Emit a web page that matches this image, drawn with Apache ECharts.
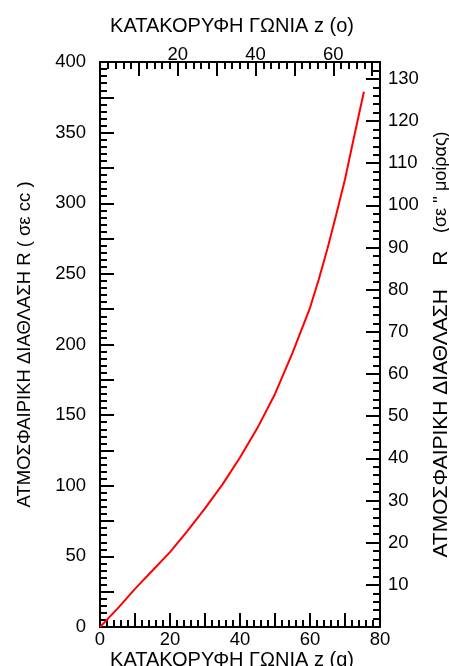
<!DOCTYPE html>
<html>
<head>
<meta charset="utf-8">
<script src="https://cdn.jsdelivr.net/npm/echarts@6/dist/echarts.min.js"></script>
<style>
  html, body { margin: 0; padding: 0; background: #fff; overflow: hidden; }
  #chart { width: 449px; height: 666px; }
</style>
</head>
<body>
<div id="chart"></div>
<script>
// Zenith angle in grads and atmospheric refraction in cc
const zenithGrad = [0, 5, 10, 15, 20, 25, 30, 35, 40, 45, 50, 55, 60, 62.5, 65, 67.5, 70, 72.5, 75.4];
const refractionCc = [0, 13, 27, 40, 53, 68, 84, 101, 120, 141, 165, 194, 226, 246, 268, 292, 317, 346, 379];

// Tick labels shown on each axis
const bottomLabels = [0, 20, 40, 60, 80];
const topLabels = [20, 40, 60];
const leftLabels = [0, 50, 100, 150, 200, 250, 300, 350, 400];
const rightLabels = [10, 20, 30, 40, 50, 60, 70, 80, 90, 100, 110, 120, 130];

const FONT = 'Liberation Sans, Arial, Helvetica, sans-serif';
const INK = '#000';

function pick(list) {
  return function (v) { return list.indexOf(Math.round(v * 1000) / 1000) >= 0 ? String(v) : ''; };
}

function frameAxis(extra, labelMargin, labels, nameStyle) {
  return Object.assign({
    type: 'value',
    axisLine: { show: true, onZero: false, lineStyle: { color: INK, width: 2 } },
    axisTick: { show: true, inside: true, length: 14, lineStyle: { color: INK, width: 2 } },
    minorTick: { show: true, splitNumber: 5, length: 7, lineStyle: { color: INK, width: 2 } },
    splitLine: { show: false },
    minorSplitLine: { show: false },
    axisLabel: { color: INK, fontFamily: FONT, fontSize: 18.5, margin: labelMargin, formatter: pick(labels) },
    nameTextStyle: Object.assign({ color: INK, fontFamily: FONT }, nameStyle),
    nameLocation: 'middle',
    nameMoveOverlap: false
  }, extra);
}

const chart = echarts.init(document.getElementById('chart'), null, { renderer: 'canvas' });

chart.setOption({
  backgroundColor: '#fff',
  animation: false,
  grid: {
    left: 100, right: 69, top: 62, bottom: 39,
    containLabel: false,
    outerBoundsMode: 'none'
  },
  xAxis: [
    frameAxis({
      position: 'bottom', min: 0, max: 80, interval: 10,
      name: 'ΚΑΤΑΚΟΡΥΦΗ ΓΩΝΙΑ z (g)', nameGap: 23
    }, 3, bottomLabels, { fontSize: 20, padding: [0, 16, 0, 0] }),
    frameAxis({
      position: 'top', min: 0, max: 72, interval: 10,
      name: 'ΚΑΤΑΚΟΡΥΦΗ ΓΩΝΙΑ z (o)', nameGap: 26
    }, -2.5, topLabels, { fontSize: 20, padding: [0, 16, 0, 0] })
  ],
  yAxis: [
    frameAxis({
      position: 'left', min: 0, max: 400, interval: 25,
      name: 'ΑΤΜΟΣΦΑΙΡΙΚΗ ΔΙΑΘΛΑΣΗ R ( σε cc )', nameGap: 66
    }, 14, leftLabels, { fontSize: 18.5 }),
    frameAxis({
      position: 'right', min: 0, max: 134, interval: 10,
      name: '{a|ΑΤΜΟΣΦΑΙΡΙΚΗ ΔΙΑΘΛΑΣΗ    R   }{b|(σε \'\' μοίρας)}',
      nameGap: 51, nameRotate: 90
    }, 8, rightLabels, {
      fontSize: 21,
      rich: {
        a: { color: INK, fontFamily: FONT, fontSize: 21 },
        b: { color: INK, fontFamily: FONT, fontSize: 18 }
      }
    })
  ],
  series: [{
    type: 'line',
    xAxisIndex: 0,
    yAxisIndex: 0,
    data: zenithGrad.map((z, i) => [z, refractionCc[i]]),
    showSymbol: false,
    smooth: false,
    lineStyle: { color: '#ff0000', width: 2 }
  }]
});
</script>
</body>
</html>
